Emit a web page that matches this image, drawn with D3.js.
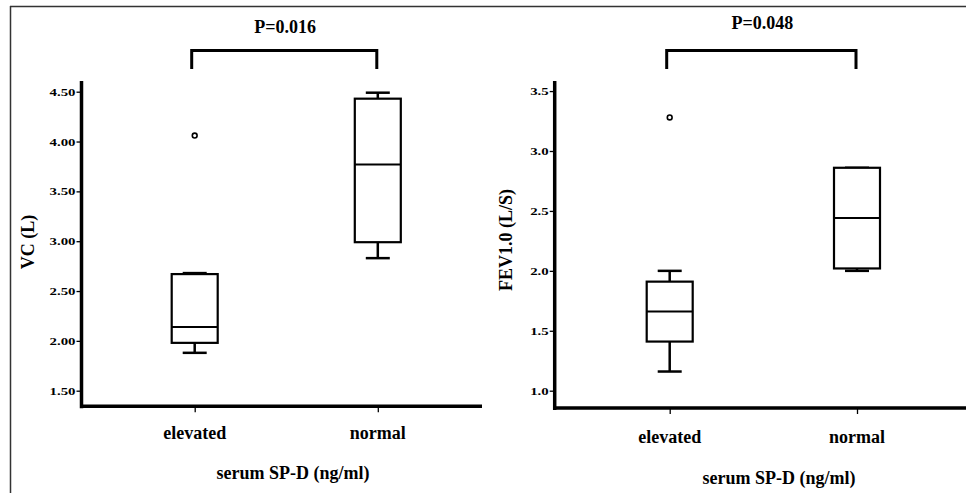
<!DOCTYPE html>
<html>
<head>
<meta charset="utf-8">
<script src="https://cdn.jsdelivr.net/npm/d3@7"></script>
<style>
  html, body { margin: 0; padding: 0; background: #fff; }
  svg { display: block; font-family: "Liberation Serif", "DejaVu Serif", serif; font-weight: bold; }
</style>
</head>
<body>
<svg id="chart" width="966" height="493"></svg>
<script>
// ─── Data ───
const groups = ["elevated", "normal"];

// five-number summaries [min, q1, median, q3, max]
const vcStats = [
  [1.88, 1.98, 2.14, 2.67, 2.68],
  [2.83, 2.99, 3.77, 4.43, 4.49],
];
const vcOutliers = [[4.06], []];
const vcTicks = [1.5, 2.0, 2.5, 3.0, 3.5, 4.0, 4.5];

const fevStats = [
  [1.16, 1.41, 1.66, 1.91, 2.0],
  [2.0, 2.02, 2.44, 2.86, 2.86],
];
const fevOutliers = [[3.28], []];
const fevTicks = [1.0, 1.5, 2.0, 2.5, 3.0, 3.5];

const pValues = ["P=0.016", "P=0.048"];
const yTitles = ["VC (L)", "FEV1.0 (L/S)"];
const xTitle = "serum SP-D (ng/ml)";

const svg = d3.select("#chart");

// ─── Outer frame (top + left edges) ───
svg.append("line").attr("x1", 10).attr("x2", 966).attr("y1", 6.5).attr("y2", 6.5)
  .attr("stroke", "#333").attr("stroke-width", 1.5);
svg.append("line").attr("x1", 10.5).attr("x2", 10.5).attr("y1", 6).attr("y2", 493)
  .attr("stroke", "#333").attr("stroke-width", 1.5);

// ─── One box-plot panel ───
function drawPanel(cfg) {
  const { stats, outliers, ticks, fmt, axisX, axisY, top, right, cats, yDom, yRange,
          pText, pY, yTitle, yTitleX, yTitleY, catY, titleY, titleX } = cfg;

  const x = d3.scalePoint().domain(groups).range(cats);
  const y = d3.scaleLinear().domain(yDom).range(yRange);
  const g = svg.append("g");

  // y axis (ticks + labels)
  const yAxis = g.append("g")
    .attr("transform", `translate(${axisX},0)`)
    .call(d3.axisLeft(y).tickValues(ticks).tickFormat(d3.format(fmt)).tickSize(5).tickPadding(1))
    .call((a) => a.select(".domain").remove());
  yAxis.selectAll("line").attr("stroke", "#000").attr("stroke-width", 1.3);
  yAxis.selectAll("text")
    .attr("fill", "#000")
    .style("font-size", "11px")
    .style("font-family", '"Liberation Serif", serif')
    .style("font-weight", "bold")
    .attr("x", -6 / 1.35)
    .attr("transform", "scale(1.35,1)");

  // x axis ticks
  const xAxis = g.append("g")
    .attr("transform", `translate(0,${axisY})`)
    .call(d3.axisBottom(x).tickSize(6).tickFormat(""))
    .call((a) => a.select(".domain").remove());
  xAxis.selectAll("line").attr("stroke", "#000").attr("stroke-width", 1.3);

  // axis lines
  g.append("line").attr("x1", axisX).attr("x2", axisX).attr("y1", top).attr("y2", axisY + 2)
    .attr("stroke", "#000").attr("stroke-width", 3.5);
  g.append("line").attr("x1", axisX - 1.5).attr("x2", right).attr("y1", axisY).attr("y2", axisY)
    .attr("stroke", "#000").attr("stroke-width", 3.5);

  // category labels
  g.selectAll(".cat").data(groups).join("text")
    .attr("x", (d) => x(d)).attr("y", catY)
    .attr("text-anchor", "middle").style("font-size", "18px").text((d) => d);

  // x title
  g.append("text").attr("x", titleX).attr("y", titleY)
    .attr("text-anchor", "middle").style("font-size", "18px").text(xTitle);

  // y title
  g.append("text")
    .attr("transform", `translate(${yTitleX},${yTitleY}) rotate(-90)`)
    .attr("text-anchor", "middle").attr("dy", "0.35em")
    .style("font-size", "18px").text(yTitle);

  // boxes
  const half = 23, cap = 12;
  groups.forEach((grp, i) => {
    const [mn, q1, md, q3, mx] = stats[i];
    const cx = x(grp);
    const bg = g.append("g").attr("stroke", "#000").attr("fill", "none");
    // whiskers
    bg.append("line").attr("x1", cx).attr("x2", cx).attr("y1", y(q3)).attr("y2", y(mx)).attr("stroke-width", 2.5);
    bg.append("line").attr("x1", cx).attr("x2", cx).attr("y1", y(q1)).attr("y2", y(mn)).attr("stroke-width", 2.5);
    bg.append("line").attr("x1", cx - cap).attr("x2", cx + cap).attr("y1", y(mx)).attr("y2", y(mx)).attr("stroke-width", 2.5);
    bg.append("line").attr("x1", cx - cap).attr("x2", cx + cap).attr("y1", y(mn)).attr("y2", y(mn)).attr("stroke-width", 2.5);
    // box
    bg.append("rect").attr("x", cx - half).attr("width", half * 2)
      .attr("y", y(q3)).attr("height", y(q1) - y(q3))
      .attr("fill", "#fff").attr("stroke-width", 2.2);
    // median
    bg.append("line").attr("x1", cx - half).attr("x2", cx + half).attr("y1", y(md)).attr("y2", y(md)).attr("stroke-width", 2);
    // outliers
    outliers[i].forEach((v) => {
      bg.append("circle").attr("cx", cx).attr("cy", y(v)).attr("r", 2.4)
        .attr("fill", "#fff").attr("stroke-width", 1.6);
    });
  });

  // significance bracket
  const bx0 = x(groups[0]) - 3, bx1 = x(groups[1]) - 1;
  g.append("path")
    .attr("d", `M${bx0},69 V50.5 H${bx1} V69`)
    .attr("fill", "none").attr("stroke", "#000").attr("stroke-width", 3);
  g.append("text").attr("x", (bx0 + bx1) / 2 + 1).attr("y", pY)
    .attr("text-anchor", "middle").style("font-size", "18px").text(pText);
}

drawPanel({
  stats: vcStats, outliers: vcOutliers, ticks: vcTicks, fmt: ".2f",
  axisX: 81.5, axisY: 406.3, top: 81, right: 482,
  cats: [194.7, 377.8], yDom: [1.5, 4.5], yRange: [390.7, 91.7],
  pText: pValues[0], pY: 33, yTitle: yTitles[0], yTitleX: 28, yTitleY: 242,
  catY: 439, titleY: 479, titleX: 293,
});

drawPanel({
  stats: fevStats, outliers: fevOutliers, ticks: fevTicks, fmt: ".1f",
  axisX: 554.7, axisY: 408, top: 81, right: 966,
  cats: [669.7, 857], yDom: [1.0, 3.0], yRange: [390.7, 151],
  pText: pValues[1], pY: 29, yTitle: yTitles[1], yTitleX: 506, yTitleY: 240,
  catY: 443, titleY: 484, titleX: 779,
});
</script>
</body>
</html>
